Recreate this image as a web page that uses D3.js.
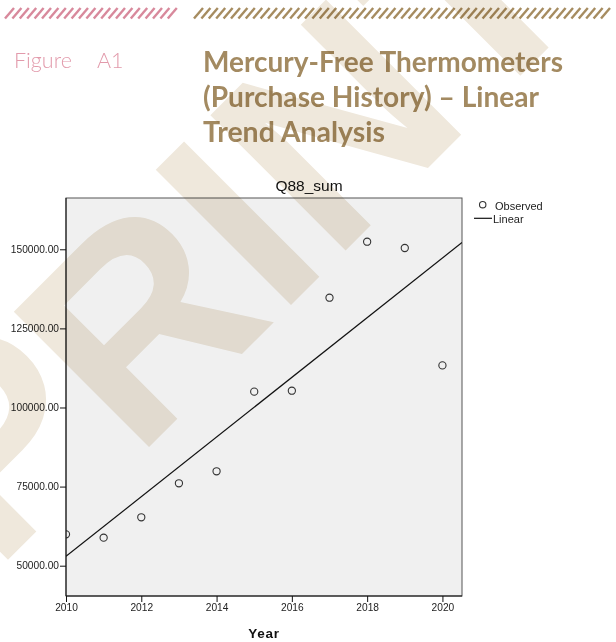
<!DOCTYPE html>
<html lang="en">
<head>
<meta charset="UTF-8">
<title>Figure A1</title>
<script src="https://d3js.org/d3.v7.min.js"></script>
<style>
  body { margin: 0; background: #fff; }
  svg { display: block; }
</style>
</head>
<body>
<div id="root"></div>
<script>
  // observed yearly totals (Q88_sum)
  const years = [2010, 2011, 2012, 2013, 2014, 2015, 2016, 2017, 2018, 2019, 2020];
  const observed = [59900, 58850, 65300, 76040, 79840, 105000, 105300, 134700, 152400, 150400, 113300];
  const yTicks = [50000, 75000, 100000, 125000, 150000];
  const xTicks = [2010, 2012, 2014, 2016, 2018, 2020];
  const titleLines = ['Mercury-Free Thermometers', '(Purchase History) \u2013 Linear', 'Trend Analysis'];

  const W = 616, H = 642;
  const svg = d3.select('#root').append('svg').attr('width', W).attr('height', H);

  // header hatch bars
  function hatch(x0, x1, color) {
    const g = svg.append('g');
    g.selectAll('line').data(d3.range(x0, x1, 7.4)).enter().append('line')
      .attr('x1', d => d).attr('y1', 18.5)
      .attr('x2', d => d + 9).attr('y2', 8)
      .attr('stroke', color).attr('stroke-width', 2.4);
  }
  hatch(5, 172, '#d8899c');
  hatch(194, 606, '#a68c60');

  svg.append('text').attr('x', 14).attr('y', 68)
    .style('font-family', 'Lato, "Open Sans", sans-serif').style('font-weight', 300)
    .style('font-size', '21.5px').attr('fill', '#e29aab')
    .text('Figure');
  svg.append('text').attr('x', 97).attr('y', 68)
    .style('font-family', 'Lato, "Open Sans", sans-serif').style('font-weight', 300)
    .style('font-size', '21.5px').attr('fill', '#e29aab')
    .text('A1');

  const titleLen = [360, 336, 182];
  svg.append('g').selectAll('text').data(titleLines).enter().append('text')
    .attr('x', 203).attr('y', (d, i) => 72 + i * 35)
    .attr('textLength', (d, i) => titleLen[i]).attr('lengthAdjust', 'spacingAndGlyphs')
    .style('font-family', 'Lato, "Open Sans", sans-serif').style('font-weight', 700)
    .style('font-size', '28px').attr('fill', '#a38a61')
    .text(d => d);

  // chart
  const pLeft = 66, pRight = 462, pTop = 198, pBottom = 596;
  const x = d3.scaleLinear().domain([2010, 2020.52]).range([pLeft, pRight]);
  const y = d3.scaleLinear().domain([40420, 166210]).range([pBottom, pTop]);

  svg.append('rect').attr('x', pLeft).attr('y', pTop).attr('width', pRight - pLeft).attr('height', pBottom - pTop)
    .attr('fill', '#f0f0f0').attr('stroke', '#555').attr('stroke-width', 1);

  svg.append('defs').append('clipPath').attr('id', 'plotclip')
    .append('rect').attr('x', pLeft).attr('y', pTop).attr('width', pRight - pLeft).attr('height', pBottom - pTop);

  // least squares trend
  const mx = d3.mean(years), my = d3.mean(observed);
  const slope = d3.sum(years, (d, i) => (d - mx) * (observed[i] - my)) / d3.sum(years, d => (d - mx) * (d - mx));
  const fit = t => my + slope * (t - mx);
  const xd = x.domain();

  const plot = svg.append('g').attr('clip-path', 'url(#plotclip)');
  plot.append('line')
    .attr('x1', x(xd[0])).attr('y1', y(fit(xd[0])))
    .attr('x2', x(xd[1])).attr('y2', y(fit(xd[1])))
    .attr('stroke', '#111').attr('stroke-width', 1.2);
  plot.selectAll('circle').data(years).enter().append('circle')
    .attr('cx', d => x(d)).attr('cy', (d, i) => y(observed[i])).attr('r', 3.6)
    .attr('fill', 'none').attr('stroke', '#333').attr('stroke-width', 1.1);

  const tickFont = g => g.selectAll('text')
    .style('font-family', '"Liberation Sans", Arial, sans-serif').style('font-size', '10.2px').attr('fill', '#222');

  const yAxis = svg.append('g').attr('transform', `translate(${pLeft},0)`)
    .call(d3.axisLeft(y).tickValues(yTicks).tickFormat(d3.format('.2f')).tickSize(6).tickPadding(1))
    .call(tickFont);
  yAxis.select('.domain').attr('d', `M0,${pTop}V${pBottom}`).attr('stroke', '#111');
  yAxis.selectAll('.tick line').attr('stroke', '#111');

  const xAxis = svg.append('g').attr('transform', `translate(0,${pBottom})`)
    .call(d3.axisBottom(x).tickValues(xTicks).tickFormat(d3.format('d')).tickSize(6).tickPadding(2))
    .call(tickFont);
  xAxis.select('.domain').attr('d', `M${pLeft},0H${pRight}`).attr('stroke', '#111');
  xAxis.selectAll('.tick line').attr('stroke', '#111');

  svg.append('text').attr('x', (pLeft + pRight) / 2 + 45).attr('y', 190.5).attr('text-anchor', 'middle')
    .style('font-family', '"Liberation Sans", Arial, sans-serif').style('font-size', '15.5px')
    .attr('fill', '#111').text('Q88_sum');

  svg.append('text').attr('x', (pLeft + pRight) / 2).attr('y', 638).attr('text-anchor', 'middle')
    .style('font-family', '"Liberation Sans", Arial, sans-serif').style('font-size', '13.5px').style('font-weight', 700)
    .style('letter-spacing', '0.8px').attr('fill', '#111').text('Year');

  // legend
  const lg = svg.append('g').style('font-family', '"Liberation Sans", Arial, sans-serif').style('font-size', '11px');
  lg.append('circle').attr('cx', 482.7).attr('cy', 204.7).attr('r', 3.2)
    .attr('fill', 'none').attr('stroke', '#333').attr('stroke-width', 1.1);
  lg.append('text').attr('x', 495).attr('y', 210).attr('fill', '#222').text('Observed');
  lg.append('line').attr('x1', 474).attr('x2', 492).attr('y1', 218.3).attr('y2', 218.3)
    .attr('stroke', '#111').attr('stroke-width', 1.2);
  lg.append('text').attr('x', 493).attr('y', 222.5).attr('fill', '#222').text('Linear');

  // watermark
  const wm = svg.append('text').attr('transform', 'translate(9,587) rotate(-45)')
    .style('font-family', '"Liberation Sans", Arial, sans-serif').style('font-weight', 700)
    .style('font-size', '278px').style('mix-blend-mode', 'multiply')
    .attr('fill', '#efe8dc');
  wm.append('tspan').attr('dy', -20).text('P');
  wm.append('tspan').attr('dy', 20).attr('dx', -6).text('RINT');
</script>
</body>
</html>
